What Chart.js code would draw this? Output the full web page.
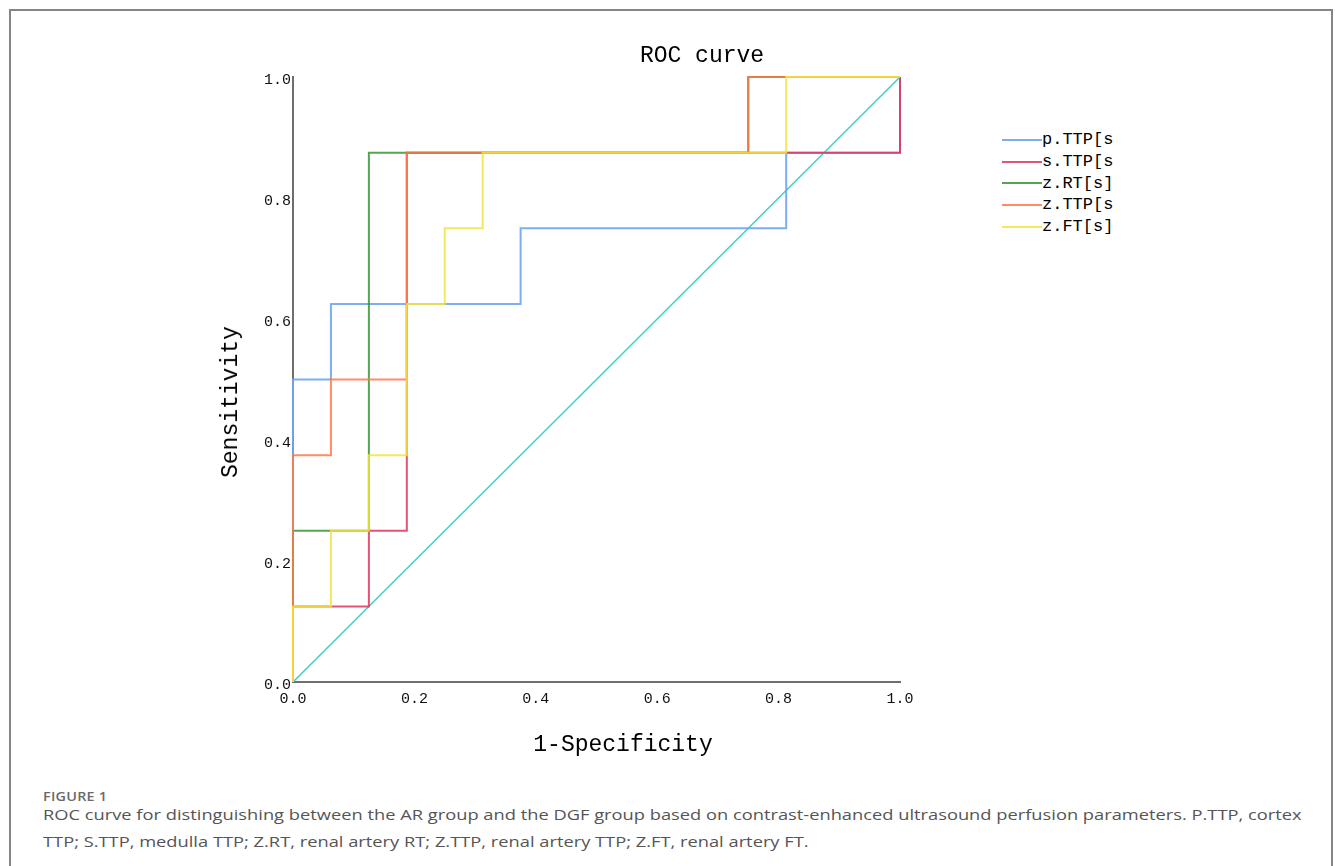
<!DOCTYPE html>
<html>
<head>
<meta charset="utf-8">
<script src="https://cdn.jsdelivr.net/npm/chart.js@4.4.1/dist/chart.umd.min.js"></script>
<style>
  html, body { margin: 0; padding: 0; background: #fff; width: 1335px; height: 866px; overflow: hidden; }
  #frame { position: absolute; left: 9px; top: 9px; width: 1320px; height: 870px;
           border-top: 2px solid #858585; border-left: 2px solid #858585; border-right: 2px solid #858585; }
  #wrap { position: absolute; left: 0; top: 0; width: 1000px; height: 770px; }
  .mono { font-family: 'Liberation Mono', monospace; color: #000; position: absolute; white-space: nowrap; }
  #title { left: 702px; top: 56px; transform: translate(-50%, -50%); font-size: 23px; }
  #xtitle { left: 623px; top: 745px; transform: translate(-50%, -50%); font-size: 23px; }
  #ytitle { left: 231px; top: 402px; transform: translate(-50%, -50%) rotate(-90deg); font-size: 23px; }
  #legend { position: absolute; left: 1002px; top: 129px; font-family: 'Liberation Mono', monospace; font-size: 17px; }
  .lg { height: 21.7px; display: flex; align-items: center; }
  .sw { width: 40px; height: 2px; }
  .cap { position: absolute; left: 43px; font-family: 'Open Sans', sans-serif; white-space: nowrap; transform-origin: 0 50%; }
  #fig { top: 788px; font-size: 12px; font-weight: 600; color: #6a6a6a; transform: scaleX(1.2); letter-spacing: 0.2px; }
  #cap1 { top: 803px; font-size: 15px; line-height: 22px; color: #555; transform: scaleX(1.219); }
  #cap2 { top: 830px; font-size: 15px; line-height: 22px; color: #555; transform: scaleX(1.219); }
</style>
</head>
<body>
<div id="frame"></div>
<div id="wrap"><canvas id="c"></canvas></div>
<div id="title" class="mono">ROC curve</div>
<div id="xtitle" class="mono">1-Specificity</div>
<div id="ytitle" class="mono">Sensitivity</div>
<div id="legend"></div>
<div id="fig" class="cap">FIGURE 1</div>
<div id="cap1" class="cap">ROC curve for distinguishing between the AR group and the DGF group based on contrast-enhanced ultrasound perfusion parameters. P.TTP, cortex</div>
<div id="cap2" class="cap">TTP; S.TTP, medulla TTP; Z.RT, renal artery RT; Z.TTP, renal artery TTP; Z.FT, renal artery FT.</div>
<script>
// ---- data (1-Specificity = x, Sensitivity = y) ----
const seriesNames = ['p.TTP[s', 's.TTP[s', 'z.RT[s]', 'z.TTP[s', 'z.FT[s]'];
const seriesColors = ['rgba(110,165,240,0.9)', 'rgba(226,52,92,0.85)', 'rgba(52,150,52,0.85)', 'rgba(255,120,70,0.85)', 'rgba(243,228,60,0.85)'];

const pTTP_x = [0, 0, 0.0625, 0.0625, 0.375, 0.375, 0.8125, 0.8125, 1, 1];
const pTTP_y = [0, 0.5, 0.5, 0.625, 0.625, 0.75, 0.75, 0.875, 0.875, 1];

const sTTP_x = [0, 0, 0.125, 0.125, 0.1875, 0.1875, 1, 1];
const sTTP_y = [0, 0.125, 0.125, 0.25, 0.25, 0.875, 0.875, 1];

const zRT_x = [0, 0, 0.125, 0.125, 0.75, 0.75, 1];
const zRT_y = [0, 0.25, 0.25, 0.875, 0.875, 1, 1];

const zTTP_x = [0, 0, 0.0625, 0.0625, 0.1875, 0.1875, 0.75, 0.75, 1];
const zTTP_y = [0, 0.375, 0.375, 0.5, 0.5, 0.875, 0.875, 1, 1];

const zFT_x = [0, 0, 0.0625, 0.0625, 0.125, 0.125, 0.1875, 0.1875, 0.25, 0.25, 0.3125, 0.3125, 0.8125, 0.8125, 1];
const zFT_y = [0, 0.125, 0.125, 0.25, 0.25, 0.375, 0.375, 0.625, 0.625, 0.75, 0.75, 0.875, 0.875, 1, 1];

const refX = [0, 1];
const refY = [0, 1];

const axisTicks = [0, 0.2, 0.4, 0.6, 0.8, 1.0];

// ---- build ----
const pts = (xs, ys) => xs.map((x, i) => ({ x: x, y: ys[i] }));
const seriesXs = [pTTP_x, sTTP_x, zRT_x, zTTP_x, zFT_x];
const seriesYs = [pTTP_y, sTTP_y, zRT_y, zTTP_y, zFT_y];

const datasets = seriesNames.map((name, i) => ({
  label: name,
  data: pts(seriesXs[i], seriesYs[i]),
  borderColor: seriesColors[i],
  borderWidth: 2,
  pointRadius: 0,
  tension: 0,
  fill: false,
  clip: false,
  order: seriesNames.length - i
}));
datasets.push({
  label: 'reference',
  data: pts(refX, refY),
  borderColor: 'rgba(60,210,195,1)',
  borderWidth: 1.5,
  pointRadius: 0,
  fill: false,
  clip: false,
  order: 10
});

// HTML legend
const lg = document.getElementById('legend');
seriesNames.forEach((n, i) => {
  const row = document.createElement('div');
  row.className = 'lg';
  const sw = document.createElement('div');
  sw.className = 'sw';
  sw.style.background = seriesColors[i];
  const t = document.createElement('span');
  t.textContent = n;
  row.appendChild(sw); row.appendChild(t);
  lg.appendChild(row);
});

const tickFont = { family: "'Liberation Mono', monospace", size: 15 };
const setTicks = (scale) => { scale.ticks = axisTicks.map(v => ({ value: v })); };

new Chart(document.getElementById('c'), {
  type: 'line',
  data: { datasets: datasets },
  options: {
    responsive: true,
    maintainAspectRatio: false,
    animation: false,
    events: [],
    layout: { padding: { left: 0, right: 100, top: 77, bottom: 58 } },
    plugins: { legend: { display: false }, tooltip: { enabled: false }, title: { display: false } },
    scales: {
      x: {
        type: 'linear', min: 0, max: 1,
        afterBuildTicks: setTicks,
        afterFit: (s) => { s.height = 30; },
        grid: { display: false, drawTicks: false },
        border: { display: true, color: '#6e6e6e', width: 2 },
        ticks: { font: tickFont, color: '#111', padding: 8, maxRotation: 0, callback: (v) => Number(v).toFixed(1) }
      },
      y: {
        type: 'linear', min: 0, max: 1,
        afterBuildTicks: setTicks,
        afterFit: (s) => { s.width = 293; },
        grid: { display: false, drawTicks: false },
        border: { display: true, color: '#6e6e6e', width: 2 },
        ticks: { font: tickFont, color: '#111', padding: 2, labelOffset: 3, callback: (v) => Number(v).toFixed(1) }
      }
    }
  }
});
</script>
</body>
</html>
